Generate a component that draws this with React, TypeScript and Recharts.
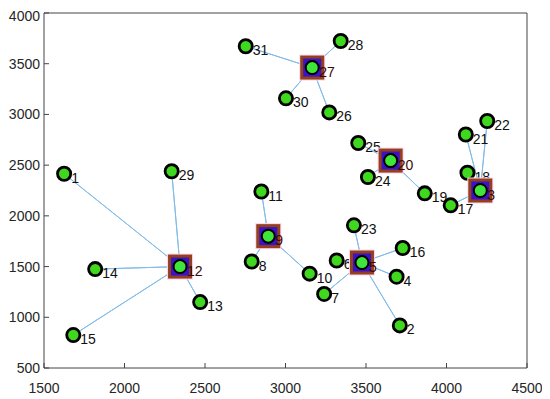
import React from 'react';
import { ScatterChart, Scatter, XAxis, YAxis, ZAxis } from 'recharts';

// node positions, index i -> node id i+1
const nodeX = [
  1625, 3710, 4210, 3690, 3475, 3318, 3240, 2790, 2893, 3150,
  2850, 2345, 2470, 1818, 1682, 3728, 4026, 4130, 3865, 3653,
  4120, 4253, 3425, 3512, 3452, 3272, 3166, 3343, 2293, 3003, 2753,
];
const nodeY = [
  2415, 920, 2250, 1400, 1540, 1560, 1230, 1550, 1800, 1430,
  2240, 1500, 1150, 1475, 825, 1683, 2104, 2425, 2222, 2545,
  2802, 2935, 1907, 2383, 2718, 3020, 3462, 3724, 2440, 3159, 3672,
];

// cluster heads and their members (node ids)
const clusterHeads = [12, 9, 5, 27, 20, 3];
const clusterMembers = [
  [1, 29, 14, 15, 13],
  [11, 8, 10],
  [23, 6, 16, 4, 7, 2],
  [31, 28, 30, 26],
  [25, 24, 19],
  [21, 22, 18, 17],
];

const xTicks = [1500, 2000, 2500, 3000, 3500, 4000, 4500];
const yTicks = [500, 1000, 1500, 2000, 2500, 3000, 3500, 4000];

const node = (id: number) => ({ id, x: nodeX[id - 1], y: nodeY[id - 1] });

const allNodes = nodeX.map((_, i) => node(i + 1));
const headSet = new Set(clusterHeads);
const memberNodes = allNodes.filter((n) => !headSet.has(n.id));
const headNodes = clusterHeads.map(node);

// star path: head -> m1 -> head -> m2 ...
const starData = clusterHeads.map((h, ci) => {
  const pts: { id: number; x: number; y: number }[] = [node(h)];
  clusterMembers[ci].forEach((m) => {
    pts.push(node(m));
    pts.push(node(h));
  });
  return pts;
});

const font = 'Arial, "Liberation Sans", sans-serif';

const NodeShape = (props: any) => {
  const { cx, cy, payload } = props;
  return (
    <g>
      <circle cx={cx} cy={cy} r={6.6} fill="#3fd81f" stroke="#000" strokeWidth={2.8} />
      <text x={cx + 7} y={cy + 9} fontSize={14} fontFamily={font} fill="#111">
        {payload.id}
      </text>
    </g>
  );
};

const HeadShape = (props: any) => {
  const { cx, cy, payload } = props;
  return (
    <g>
      <rect x={cx - 13} y={cy - 13} width={26} height={26} fill="#ffd2ee" />
      <rect x={cx - 10.5} y={cy - 10.5} width={21} height={21} fill="#3a12c8" stroke="#94401c" strokeWidth={3} />
      <circle cx={cx} cy={cy} r={6.5} fill="#3fe63a" stroke="#000" strokeWidth={2} />
      <text x={cx + 7} y={cy + 9} fontSize={14} fontFamily={font} fill="#3a0808">
        {payload.id}
      </text>
    </g>
  );
};

const Empty = () => <g />;

export default function App() {
  const tickStyle = { fontSize: 14, fill: '#262626', fontFamily: font };
  return (
    <ScatterChart width={542} height={391} margin={{ top: 4, right: 22, bottom: 0, left: 0 }}>
      <XAxis
        xAxisId="b"
        type="number"
        dataKey="x"
        domain={[1500, 4500]}
        ticks={xTicks}
        height={31}
        tickSize={-5}
        tickMargin={20}
        tick={tickStyle}
        stroke="#444"
        allowDataOverflow
      />
      <XAxis
        xAxisId="t"
        orientation="top"
        type="number"
        dataKey="x"
        domain={[1500, 4500]}
        ticks={xTicks}
        height={1}
        tickSize={-5}
        tick={Empty}
        stroke="#444"
      />
      <YAxis
        yAxisId="l"
        type="number"
        dataKey="y"
        domain={[500, 4000]}
        ticks={yTicks}
        width={36}
        tickSize={-5}
        tickMargin={9}
        tick={tickStyle}
        stroke="#444"
        allowDataOverflow
      />
      <YAxis
        yAxisId="r"
        orientation="right"
        type="number"
        dataKey="y"
        domain={[500, 4000]}
        ticks={yTicks}
        width={1}
        tickSize={-5}
        tick={Empty}
        stroke="#444"
      />
      <ZAxis range={[60, 60]} />
      {starData.map((pts, i) => (
        <Scatter
          key={`star-${i}`}
          xAxisId="b"
          yAxisId="l"
          data={pts}
          line={{ stroke: '#82bce8', strokeWidth: 1 }}
          shape={Empty}
          isAnimationActive={false}
        />
      ))}
      <Scatter xAxisId="b" yAxisId="l" data={memberNodes} shape={NodeShape} isAnimationActive={false} />
      <Scatter xAxisId="b" yAxisId="l" data={headNodes} shape={HeadShape} isAnimationActive={false} />
    </ScatterChart>
  );
}
